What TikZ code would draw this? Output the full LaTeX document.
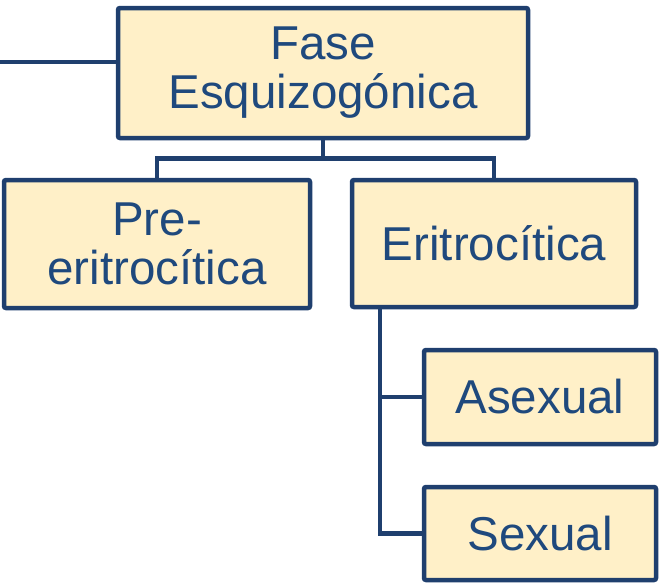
\documentclass[tikz,border=0pt]{standalone}
\usepackage{fontspec}
\setmainfont{Liberation Sans}
\usetikzlibrary{arrows,shapes}
\definecolor{LineBlue}{RGB}{31,63,110}
\definecolor{TextBlue}{RGB}{31,73,125}
\definecolor{Cream}{RGB}{255,240,200}

\tikzset{
    phasebox/.style={draw=LineBlue, fill=Cream, text=TextBlue, line width=4.5pt, rounded corners=2pt,
        inner sep=0pt, text centered, font=\fontsize{47.5}{49}\selectfont},
    link/.style={line width=4.5pt, draw=LineBlue}
}

\begin{document}
\begin{tikzpicture}[x=1pt,y=-1pt]
    \useasboundingbox (0,0) rectangle (666,584);

    \node[phasebox, minimum width=410pt, minimum height=130pt, text width=400pt] (fase) at (323,73) {Fase\\Esquizogónica};

    \node[phasebox, minimum width=306pt, minimum height=128pt, text width=296pt] (pre) at (157,244) {Pre-\\eritrocítica};

    \node[phasebox, minimum width=284pt, minimum height=127pt] (eri) at (494,243.5) {Eritrocítica};

    \node[phasebox, minimum width=232pt, minimum height=94pt] (asex) at (540,397) {Asexual};

    \node[phasebox, minimum width=232pt, minimum height=93pt] (sex) at (540,533.5) {Sexual};

    \coordinate (entry) at (0,62);

    \draw[link] (entry) -- (entry -| fase.west);
    \draw[link] (fase.south) -- ++(0,18) -| (pre.north);
    \draw[link] (fase.south) -- ++(0,18) -| (eri.north);
    \draw[link] ([xshift=30pt]eri.south west) |- (asex.west);
    \draw[link] ([xshift=30pt]eri.south west) |- (sex.west);

\end{tikzpicture}
\end{document}
